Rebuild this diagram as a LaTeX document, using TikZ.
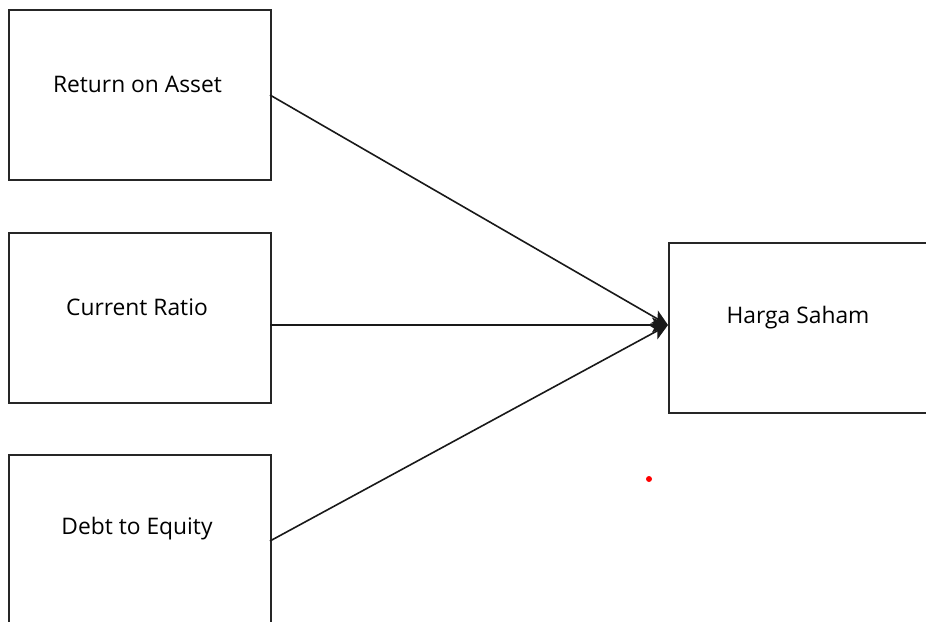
\documentclass[tikz,border=0pt]{standalone}
\usepackage{fontspec}
\setmainfont{Open Sans}
\usetikzlibrary{arrows.meta}
\begin{document}
\begin{tikzpicture}[x=1pt,y=-1pt,
  varbox/.style={draw=black!85, line width=2pt, minimum width=262pt, minimum height=170pt, inner sep=0pt, anchor=north west},
  lbl/.style={font=\fontsize{22.8}{27}\selectfont, text=black, inner sep=0pt},
  conn/.style={draw=black!90, line width=1.6pt, -{Stealth[length=16pt,width=15pt,inset=4pt]}}]
\useasboundingbox (0,0) rectangle (926,621);
\node[varbox] (roa) at (8,9) {};
\node[varbox] (cr) at (8,231.5) {};
\node[varbox] (der) at (8,454) {};
\node[varbox] (hs) at (668,241.5) {};
\node[lbl] (troa) at (137.5,84) {Return on Asset};
\node[lbl] (tcr) at (137,307) {Current Ratio};
\node[lbl] (tder) at (137,529) {Debt to Equity};
\node[lbl] (ths) at (798,318) {Harga Saham};
\coordinate (s1) at (270,95);
\coordinate (s2) at (270,325);
\coordinate (s3) at (270,541);
\coordinate (t) at (668,325);
\draw[conn] (s1) -- (t);
\draw[conn] (s2) -- (t);
\draw[conn] (s3) -- (t);
\fill[red] (649,479) circle (3pt);
\end{tikzpicture}
\end{document}
